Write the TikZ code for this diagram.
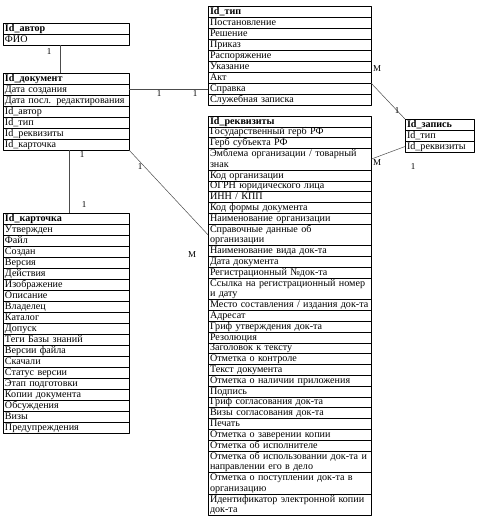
\documentclass[tikz,border=0pt]{standalone}
\usepackage{fontspec}
\setmainfont{Liberation Serif}
\usetikzlibrary{positioning}

\def\rh{11pt}
\def\cellfont{\fontsize{10.1}{10.4}\selectfont}
% table: name, top-left corner, width, header, rows (lines/text)
\newcommand{\erdtable}[5]{%
  \pgfmathsetmacro\tw{#3-4}
  \node[cell, font=\cellfont\bfseries, minimum width=#3pt, text width=\tw pt,
        anchor=north west, alias=#1-0] (#1) at (#2) {#4};
  \foreach \lines/\txt [count=\i, remember=\i as \j (initially 0)] in {#5}{
    \pgfmathsetmacro\td{\lines*10.4-8.4}
    \node[cell, minimum width=#3pt, text width=\tw pt, minimum height=\lines*\rh,
          text depth=\td pt, below=0pt of #1-\j] (#1-\i) {\txt};
  }
}

\begin{document}
\begin{tikzpicture}[x=1pt,y=-1pt,line join=round,
  cell/.style={draw, line width=0.6pt, inner xsep=2pt, inner ysep=0pt,
               outer sep=0pt, minimum height=\rh, text height=7.5pt,
               text depth=2pt, align=left, font=\cellfont},
  link/.style={draw=black!70, line width=0.5pt},
  mult/.style={font=\fontsize{9}{10}\selectfont, inner sep=0pt}]
  \useasboundingbox (0,0) rectangle (477,522);

  % ---------- left column ----------
  \erdtable{au}{3,23}{126}{Id\_автор}{1/ФИО}
  \erdtable{doc}{3,73}{126}{Id\_документ}{1/Дата создания,
    1/Дата посл. редактирования, 1/Id\_автор, 1/Id\_тип, 1/Id\_реквизиты,
    1/Id\_карточка}
  \erdtable{card}{3,213}{126}{Id\_карточка}{1/Утвержден, 1/Файл, 1/Создан,
    1/Версия, 1/Действия, 1/Изображение, 1/Описание, 1/Владелец, 1/Каталог,
    1/Допуск, 1/Теги Базы знаний, 1/Версии файла, 1/Скачали, 1/Статус версии,
    1/Этап подготовки, 1/Копии документа, 1/Обсуждения, 1/Визы,
    1/Предупреждения}

  % ---------- right column ----------
  \erdtable{tip}{208,6}{163}{Id\_тип}{1/Постановление, 1/Решение, 1/Приказ,
    1/Распоряжение, 1/Указание, 1/Акт, 1/Справка, 1/Служебная записка}
  \erdtable{rec}{405,119}{69}{Id\_запись}{1/Id\_тип, 1/Id\_реквизиты}
  \def\rh{10.8pt}
  \erdtable{req}{208,116}{163}{Id\_реквизиты}{1/Государственный герб РФ,
    1/Герб субъекта РФ, 2/{Эмблема организации / товарный\\знак},
    1/Код организации, 1/ОГРН юридического лица, 1/{ИНН / КПП},
    1/Код формы документа, 1/Наименование организации,
    2/{Справочные данные об\\организации}, 1/Наименование вида док-та,
    1/Дата документа, 1/Регистрационный №док-та,
    2/{Ссылка на регистрационный номер\\и дату},
    1/{Место составления / издания док-та}, 1/Адресат,
    1/Гриф утверждения док-та, 1/Резолюция, 1/Заголовок к тексту,
    1/Отметка о контроле, 1/Текст документа,
    1/Отметка о наличии приложения, 1/Подпись, 1/Гриф согласования док-та,
    1/Визы согласования док-та, 1/Печать, 1/Отметка о заверении копии,
    1/Отметка об исполнителе,
    2/{Отметка об использовании док-та и\\направлении его в дело},
    2/{Отметка о поступлении док-та в\\организацию},
    2/{Идентификатор электронной копии\\док-та}}

  % ---------- links ----------
  \draw[link] ([xshift=-6pt]au-1.south) -- ([xshift=-6pt]doc.north);
  \draw[link] ([xshift=3pt]doc-6.south) -- ([xshift=3pt]card.north);
  \draw[link] (doc-1.east) -- (doc-1.east -| tip-7.west);
  \draw[link] (tip-7.north east) -- (rec.north west);
  \draw[link] (rec-2.west) -- (req-3.east);
  \draw[link] (doc-6.south east) -- (req-9.west);

  % multiplicities
  \node[mult] (m1) at (49,52) {1};
  \node[mult] (m2) at (82,155) {1};
  \node[mult] (m3) at (84,205) {1};
  \node[mult] (m4) at (159,94) {1};
  \node[mult] (m5) at (195,94) {1};
  \node[mult] (m6) at (377,69) {M};
  \node[mult] (m7) at (397,111) {1};
  \node[mult] (m8) at (377,163) {M};
  \node[mult] (m9) at (413,167) {1};
  \node[mult] (m10) at (140,167) {1};
  \node[mult] (m11) at (192,255) {M};
\end{tikzpicture}
\end{document}
